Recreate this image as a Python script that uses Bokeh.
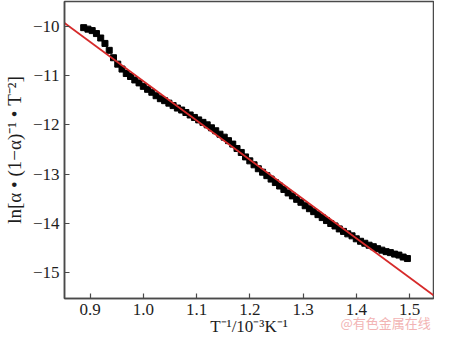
from bokeh.plotting import figure
from bokeh.models import Range1d, FixedTicker, CustomJSTickFormatter, LinearAxis
from bokeh.embed import file_html
from bokeh.resources import INLINE

# data
x_vals = [0.888, 0.896, 0.904, 0.912, 0.920, 0.928, 0.936, 0.944, 0.952, 0.960,
          0.968, 0.976, 0.984, 0.992, 1.000, 1.008, 1.016, 1.024, 1.032, 1.040,
          1.048, 1.056, 1.064, 1.072, 1.080, 1.088, 1.096, 1.104, 1.112, 1.120,
          1.128, 1.136, 1.144, 1.152, 1.160, 1.168, 1.176, 1.184, 1.192, 1.200,
          1.208, 1.216, 1.224, 1.232, 1.240, 1.248, 1.256, 1.264, 1.272, 1.280,
          1.288, 1.296, 1.304, 1.312, 1.320, 1.328, 1.336, 1.344, 1.352, 1.360,
          1.368, 1.376, 1.384, 1.392, 1.400, 1.408, 1.416, 1.424, 1.432, 1.440,
          1.448, 1.456, 1.464, 1.472, 1.480, 1.488, 1.496]
y_vals = [-10.03, -10.06, -10.09, -10.15, -10.24, -10.35, -10.49, -10.64, -10.77, -10.87,
          -10.96, -11.02, -11.09, -11.15, -11.22, -11.28, -11.34, -11.41, -11.47, -11.51,
          -11.56, -11.61, -11.66, -11.70, -11.75, -11.80, -11.85, -11.90, -11.95, -12.00,
          -12.06, -12.12, -12.19, -12.25, -12.32, -12.39, -12.48, -12.56, -12.65, -12.73,
          -12.81, -12.89, -12.96, -13.03, -13.10, -13.17, -13.24, -13.31, -13.38, -13.44,
          -13.51, -13.57, -13.64, -13.70, -13.76, -13.82, -13.88, -13.94, -14.00, -14.05,
          -14.11, -14.16, -14.21, -14.25, -14.31, -14.36, -14.40, -14.44, -14.47, -14.51,
          -14.54, -14.57, -14.59, -14.62, -14.64, -14.68, -14.71]
fit_x = [0.852, 1.545]
fit_y = [-9.935, -15.456]
x_ticks = [0.9, 1.0, 1.1, 1.2, 1.3, 1.4, 1.5]
y_ticks = [-15, -14, -13, -12, -11, -10]
x_title = "T\u207b\u00b9/10\u207b\u00b3K\u207b\u00b9"
y_title = "ln[\u03b1 \u2022 (1\u2212\u03b1)\u207b\u00b9 \u2022 T\u207b\u00b2]"
watermark = "@有色金属在线"
watermark_at = [1.455]

FONT = "Liberation Serif"
AX = "#4a4a4a"
TXT = "#1e1e1e"

p = figure(width=434, height=338, output_backend="svg", toolbar_location=None,
           x_range=Range1d(0.852, 1.545), y_range=Range1d(-15.52, -9.50),
           min_border_left=60, min_border_right=1, min_border_top=1, min_border_bottom=0)
p.background_fill_color = "white"
p.border_fill_color = "white"
p.outline_line_color = AX
p.outline_line_width = 1.5
p.grid.visible = False

p.scatter(x_vals, y_vals, marker="square", size=6, color="black")
p.line(fit_x, fit_y, line_color="#d62a2a", line_width=1.8)

for ax in (p.xaxis[0], p.yaxis[0]):
    ax.axis_line_color = AX
    ax.axis_line_width = 1.5
    ax.major_tick_line_color = AX
    ax.major_tick_line_width = 1.2
    ax.major_tick_in = 5
    ax.major_tick_out = 0
    ax.minor_tick_line_color = None
    ax.major_label_text_font = FONT
    ax.major_label_text_font_size = "17px"
    ax.major_label_text_color = TXT
    ax.axis_label_text_font = FONT
    ax.axis_label_text_font_style = "normal"
    ax.axis_label_text_color = TXT

p.xaxis.ticker = FixedTicker(ticks=x_ticks)
p.yaxis.ticker = FixedTicker(ticks=y_ticks)
p.xaxis.formatter = CustomJSTickFormatter(code="return tick.toFixed(1);")
p.yaxis.formatter = CustomJSTickFormatter(code="return String(tick).replace('-', '\u2212');")
p.xaxis.major_label_standoff = 5
p.yaxis.major_label_standoff = 5
p.xaxis.axis_label = x_title
p.yaxis.axis_label = y_title
p.xaxis.axis_label_text_font_size = "17px"
p.yaxis.axis_label_text_font_size = "19px"
p.xaxis.axis_label_standoff = -1
p.yaxis.axis_label_standoff = 5

# watermark shown as the single tick label of a bare second axis below
wm_js = "".join("\\u%04x" % ord(c) for c in watermark)
wm_axis = LinearAxis(ticker=FixedTicker(ticks=watermark_at),
                     formatter=CustomJSTickFormatter(code="return '" + wm_js + "';"))
wm_axis.axis_line_color = None
wm_axis.major_tick_line_color = None
wm_axis.minor_tick_line_color = None
wm_axis.major_tick_in = 0
wm_axis.major_tick_out = 0
wm_axis.major_label_standoff = -26
wm_axis.major_label_text_font = "Noto Sans CJK SC"
wm_axis.major_label_text_font_size = "13px"
wm_axis.major_label_text_color = "#f2b4b4"
p.add_layout(wm_axis, "below")

open("out.html", "w").write(file_html(p, INLINE))
